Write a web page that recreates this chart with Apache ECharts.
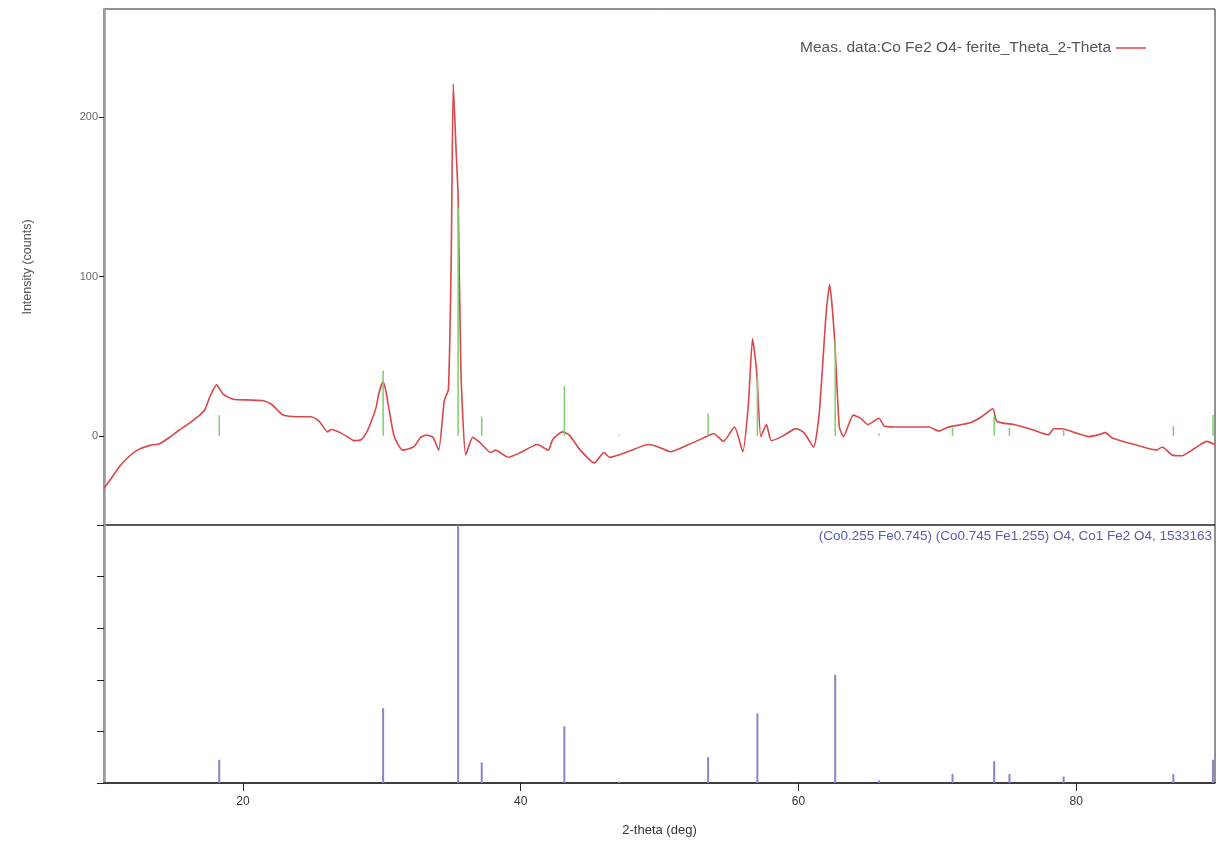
<!DOCTYPE html>
<html>
<head>
<meta charset="utf-8">
<script src="https://cdn.jsdelivr.net/npm/echarts@6/dist/echarts.min.js"></script>
<style>
  html, body { margin: 0; padding: 0; background: #fff; }
  #xrd { width: 1227px; height: 843px; }
</style>
</head>
<body>
<div id="xrd"></div>
<script>
  var measTheta = [10.0, 10.5, 11.15, 11.8, 12.4, 13.3, 14.0, 14.8, 15.4, 16.0, 16.9, 17.3, 17.6, 18.1, 18.6, 19.3, 20.5, 21.5, 22.1, 22.5, 22.9, 23.9, 24.9, 25.3, 25.6, 26.1, 26.4, 27.0, 27.5, 28.0, 28.5, 28.9, 29.2, 29.6, 29.8, 30.1, 30.3, 30.5, 30.9, 31.5, 32.3, 32.8, 33.2, 33.7, 34.1, 34.5, 34.8, 35.0, 35.15, 35.35, 35.5, 35.7, 36.05, 36.55, 37.1, 37.85, 38.2, 39.1, 40.0, 41.2, 42.0, 42.3, 43.0, 43.5, 44.3, 45.3, 46.0, 46.4, 47.7, 49.2, 49.9, 50.8, 52.1, 53.5, 53.9, 54.6, 55.4, 56.0, 56.4, 56.7, 57.0, 57.3, 57.7, 58.05, 58.8, 59.85, 60.4, 61.1, 61.5, 62.0, 62.25, 62.6, 62.95, 63.25, 63.95, 64.5, 65.0, 65.8, 66.2, 67.4, 69.4, 70.1, 70.8, 72.3, 73.2, 74.0, 74.3, 75.6, 76.8, 78.0, 78.4, 79.0, 79.9, 80.9, 81.6, 82.1, 82.6, 84.2, 85.8, 86.2, 86.9, 87.6, 88.6, 89.4, 90.0];
  var measCounts = [-33, -27, -19, -13, -9, -6, -5, -0.5, 3.5, 7, 13, 17, 24, 32, 26, 23, 22.5, 22, 19.5, 16, 13, 12, 12, 10.5, 8, 2.5, 4, 2, -0.5, -3, -2.5, 2, 8, 18, 27, 34, 28, 18, -0.5, -9, -7, -1, 0.5, -1, -9, 22, 29, 110, 221, 180, 150, 41, -12, -1, -4.5, -10.5, -9, -13.5, -10.5, -5.5, -9, -2.5, 2.5, 0.6, -9, -17, -10.5, -13.5, -10, -5.5, -7, -10, -5.5, 0, 1.5, -3.5, 5.5, -10, 20, 61, 40, -0.5, 7, -3, -0.5, 4.5, 2, -7, 14, 77, 95, 62, 5.5, -0.5, 13, 11, 7, 11, 6, 5.5, 5.5, 3, 5.5, 8, 12, 17, 9, 7, 4, 0.6, 4.4, 4.4, 2, -0.5, 0.6, 2, -1.3, -5.5, -9, -7, -12, -12.5, -7.5, -3.5, -5.5];

  // reference pattern 1533163 stick positions
  var refTheta = [18.3, 30.1, 35.5, 37.2, 43.15, 47.1, 53.5, 57.05, 62.65, 65.8, 71.1, 74.1, 75.2, 79.1, 87.0, 89.85];
  // stick heights drawn over the scan (counts)
  var refCounts = [13, 41, 143, 12, 31, 0.7, 14, 38, 60, 1.4, 5, 12.5, 5, 3.5, 6, 13];
  // relative intensities in lower panel (%)
  var refRel = [9, 29, 100, 8, 22, 0.5, 10, 27, 42, 1, 3.5, 8.5, 3.5, 2.5, 3.5, 9];

  var xTicks = [20, 40, 60, 80];
  var yTicksTop = [0, 100, 200];

  var measName = 'Meas. data:Co Fe2 O4- ferite_Theta_2-Theta';
  var refName = '(Co0.255 Fe0.745) (Co0.745 Fe1.255) O4, Co1 Fe2 O4, 1533163';

  function zip(a, b) {
    var out = [];
    for (var i = 0; i < a.length; i++) out.push([a[i], b[i]]);
    return out;
  }

  var narrow = "'Liberation Sans Narrow', 'Arial Narrow', 'Liberation Sans', sans-serif";
  var chart = echarts.init(document.getElementById('xrd'));
  var option = {
    animation: false,
    backgroundColor: '#fff',
    textStyle: { fontFamily: narrow },
    legend: {
      data: [{ name: measName, icon: 'rect' }],
      right: 76,
      top: 35,
      align: 'right',
      itemWidth: 30,
      itemHeight: 1.5,
      itemGap: 10,
      textStyle: { color: '#555', fontSize: 15.5, fontFamily: narrow }
    },
    graphic: [{
      type: 'text',
      right: 15,
      top: 529,
      style: { text: refName, fill: '#5b5bb0', fontSize: 13.5, fontFamily: narrow }
    }],
    grid: [
      { left: 104, right: 12, top: 9, height: 516, show: true, borderColor: '#222', borderWidth: 1 },
      { left: 104, right: 12, top: 525, height: 258, show: true, borderColor: '#222', borderWidth: 1 }
    ],
    xAxis: [
      {
        type: 'value', gridIndex: 0, min: 10, max: 90,
        axisLine: { show: false }, axisTick: { show: false },
        axisLabel: { show: false }, splitLine: { show: false }
      },
      {
        type: 'value', gridIndex: 1, min: 10, max: 90,
        name: '2-theta (deg)', nameLocation: 'middle', nameGap: 41,
        nameTextStyle: { color: '#333', fontSize: 13, fontFamily: narrow },
        axisLine: { lineStyle: { color: '#222', width: 1.5 } },
        axisTick: { customValues: xTicks, length: 8, lineStyle: { color: '#222' } },
        axisLabel: { customValues: xTicks, margin: 13, color: '#333', fontSize: 12 },
        splitLine: { show: false }
      }
    ],
    yAxis: [
      {
        type: 'value', gridIndex: 0, min: -56, max: 268,
        name: 'Intensity (counts)', nameLocation: 'middle', nameGap: 70,
        nameTextStyle: { color: '#555', fontSize: 12.5, fontFamily: narrow },
        axisLine: { show: true, lineStyle: { color: '#9a9a9a', width: 2.5 } },
        axisTick: { customValues: [-56, 0, 100, 200], length: 5, lineStyle: { color: '#222' } },
        axisLabel: { customValues: yTicksTop, margin: 6, color: '#666', fontSize: 11 },
        splitLine: { show: false }
      },
      {
        type: 'value', gridIndex: 1, min: 0, max: 100, interval: 20,
        axisLine: { show: true, lineStyle: { color: '#9a9a9a', width: 2.5 } },
        axisTick: { length: 7, lineStyle: { color: '#222' } },
        axisLabel: { show: false },
        splitLine: { show: false }
      }
    ],
    series: [
      {
        name: measName, type: 'line', xAxisIndex: 0, yAxisIndex: 0,
        data: zip(measTheta, measCounts),
        smooth: 0.18, showSymbol: false, z: 2,
        lineStyle: { color: '#d9474b', width: 1.6 },
        itemStyle: { color: '#d9474b' }
      },
      {
        name: 'ref-top', type: 'bar', xAxisIndex: 0, yAxisIndex: 0,
        data: zip(refTheta, refCounts), barWidth: 1.5, z: 3,
        itemStyle: { color: '#7ccf6e' }
      },
      {
        name: 'ref-bottom', type: 'bar', xAxisIndex: 1, yAxisIndex: 1,
        data: zip(refTheta, refRel), barWidth: 2, z: 3,
        itemStyle: { color: '#8585c8' }
      }
    ]
  };
  chart.setOption(option);
</script>
</body>
</html>
